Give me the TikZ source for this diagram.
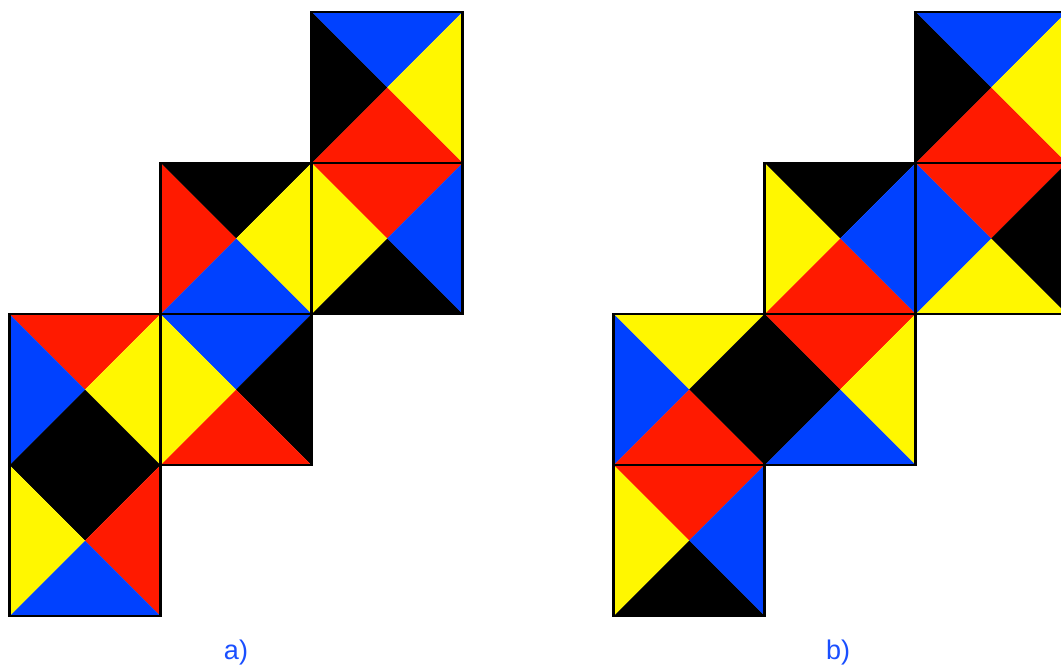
\documentclass[tikz,border=0pt]{standalone}
\usepackage{fontspec}
\setmainfont{Liberation Sans}
\definecolor{cblue}{HTML}{0041FF}
\definecolor{cred}{HTML}{FF1A00}
\definecolor{cyel}{HTML}{FFF700}
\definecolor{cblk}{HTML}{000000}
\definecolor{clab}{HTML}{1A4FFF}
\newcommand\tile[6]{% x y top right bottom left
  \fill[#3] (#1,#2) -- (#1+151,#2) -- (#1+75.5,#2+75.5) -- cycle;
  \fill[#4] (#1+151,#2) -- (#1+151,#2+151) -- (#1+75.5,#2+75.5) -- cycle;
  \fill[#5] (#1,#2+151) -- (#1+151,#2+151) -- (#1+75.5,#2+75.5) -- cycle;
  \fill[#6] (#1,#2) -- (#1,#2+151) -- (#1+75.5,#2+75.5) -- cycle;
}
\newcommand\tileedge[2]{\draw[tileline] (#1,#2) rectangle (#1+151,#2+151);}
\tikzset{tileline/.style={line width=2.6, black},
  lab/.style={text=clab, font=\fontsize{27}{29}\selectfont, inner sep=0}}
\begin{document}
\begin{tikzpicture}[x=1pt,y=-1pt]
\useasboundingbox (0,0) rectangle (1061,669);
\fill[white] (0,0) rectangle (1061,669);
\begin{scope}
\clip (0,0) rectangle (1061,669);
% a)
\tile{311.5}{12}{cblue}{cyel}{cred}{cblk}
\tile{160.5}{163}{cblk}{cyel}{cblue}{cred}
\tile{311.5}{163}{cred}{cblue}{cblk}{cyel}
\tile{9.5}{314}{cred}{cyel}{cblk}{cblue}
\tile{160.5}{314}{cblue}{cblk}{cred}{cyel}
\tile{9.5}{465}{cblk}{cred}{cblue}{cyel}
\tileedge{311.5}{12}
\tileedge{160.5}{163}
\tileedge{311.5}{163}
\tileedge{9.5}{314}
\tileedge{160.5}{314}
\tileedge{9.5}{465}
% b)
\tile{915.5}{12}{cblue}{cyel}{cred}{cblk}
\tile{764.5}{163}{cblk}{cblue}{cred}{cyel}
\tile{915.5}{163}{cred}{cblk}{cyel}{cblue}
\tile{613.5}{314}{cyel}{cblk}{cred}{cblue}
\tile{764.5}{314}{cred}{cyel}{cblue}{cblk}
\tile{613.5}{465}{cred}{cblue}{cblk}{cyel}
\tileedge{915.5}{12}
\tileedge{764.5}{163}
\tileedge{915.5}{163}
\tileedge{613.5}{314}
\tileedge{764.5}{314}
\tileedge{613.5}{465}
\end{scope}
\node[lab] (la) at (236,653) {a)};
\node[lab] (lb) at (838,653) {b)};
\end{tikzpicture}
\end{document}
